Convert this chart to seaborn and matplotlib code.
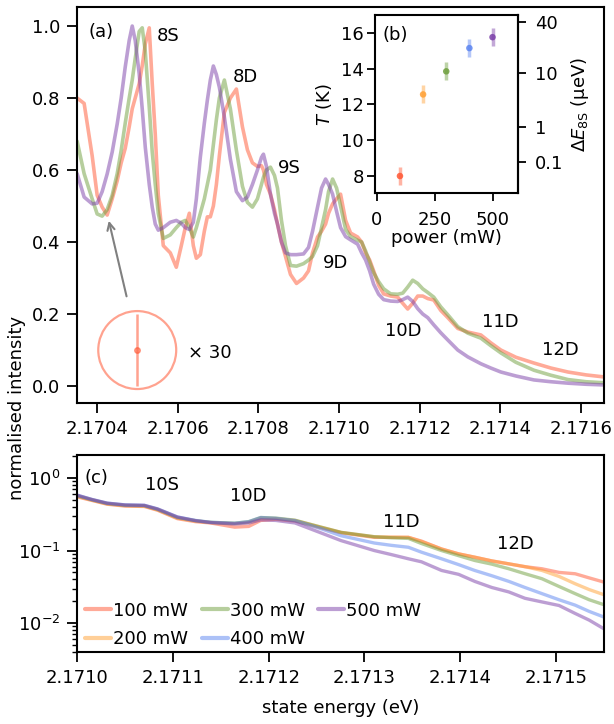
import numpy as np
import pandas as pd
import matplotlib
matplotlib.use("Agg")
import matplotlib.pyplot as plt
import seaborn as sns
from matplotlib.lines import Line2D
from matplotlib.ticker import FormatStrFormatter, NullLocator, LogLocator

# ---------------- data ----------------
powers = ["100 mW", "200 mW", "300 mW", "400 mW", "500 mW"]
colors = ["#ff5733", "#ffa033", "#6e9e3c", "#5b84f0", "#7a3fa8"]

# panel (a): shared energy grid (eV)
a_energy = [2.1703503, 2.1703677, 2.1703876, 2.1704000, 2.1704124, 2.1704248, 2.1704373, 2.1704497,
            2.1704596, 2.1704696, 2.1704795, 2.1704870, 2.1704944, 2.1705043, 2.1705118, 2.1705193,
            2.1705292, 2.1705366, 2.1705441, 2.1705516, 2.1705640, 2.1705814, 2.1705963, 2.1706087,
            2.1706186, 2.1706286, 2.1706385, 2.1706460, 2.1706559, 2.1706658, 2.1706733, 2.1706807,
            2.1706882, 2.1706957, 2.1707031, 2.1707155, 2.1707304, 2.1707453, 2.1707603, 2.1707727,
            2.1707851, 2.1707975, 2.1708075, 2.1708124, 2.1708199, 2.1708298, 2.1708398, 2.1708472,
            2.1708571, 2.1708671, 2.1708795, 2.1708944, 2.1709118, 2.1709242, 2.1709342, 2.1709466,
            2.1709565, 2.1709665, 2.1709739, 2.1709839, 2.1709938, 2.1710037, 2.1710162, 2.1710286,
            2.1710460, 2.1710559, 2.1710658, 2.1710758, 2.1710857, 2.1710981, 2.1711106, 2.1711280,
            2.1711454, 2.1711578, 2.1711702, 2.1711826, 2.1711950, 2.1712075, 2.1712199, 2.1712348,
            2.1712522, 2.1712696, 2.1712944, 2.1713193, 2.1713516, 2.1713764, 2.1714013, 2.1714385,
            2.1714832, 2.1715255, 2.1715677, 2.1716124, 2.1716596]

a_int_100 = [0.80, 0.785, 0.64, 0.53, 0.497, 0.475, 0.52, 0.57, 0.62, 0.66, 0.72, 0.77, 0.80, 0.84,
             0.89, 0.95, 0.995, 0.84, 0.70, 0.53, 0.39, 0.37, 0.33, 0.39, 0.44, 0.48, 0.39, 0.355,
             0.365, 0.43, 0.47, 0.47, 0.50, 0.56, 0.64, 0.76, 0.80, 0.825, 0.72, 0.656, 0.62, 0.61,
             0.612, 0.60, 0.56, 0.533, 0.49, 0.45, 0.40, 0.36, 0.31, 0.285, 0.30, 0.32, 0.37, 0.414,
             0.43, 0.45, 0.48, 0.506, 0.52, 0.533, 0.46, 0.425, 0.414, 0.40, 0.37, 0.35, 0.32, 0.28,
             0.256, 0.25, 0.247, 0.23, 0.214, 0.23, 0.25, 0.25, 0.243, 0.239, 0.21, 0.19, 0.16, 0.15,
             0.142, 0.12, 0.10, 0.08, 0.064, 0.05, 0.039, 0.031, 0.025]

a_int_300 = [0.68, 0.59, 0.52, 0.478, 0.472, 0.49, 0.53, 0.59, 0.655, 0.73, 0.80, 0.85, 0.91, 0.985,
             0.995, 0.93, 0.775, 0.65, 0.56, 0.48, 0.41, 0.42, 0.44, 0.455, 0.46, 0.44, 0.414, 0.44,
             0.48, 0.52, 0.56, 0.60, 0.67, 0.74, 0.80, 0.85, 0.77, 0.655, 0.555, 0.51, 0.497, 0.52,
             0.56, 0.58, 0.60, 0.608, 0.585, 0.55, 0.46, 0.39, 0.335, 0.333, 0.34, 0.35, 0.36, 0.39,
             0.44, 0.49, 0.54, 0.575, 0.55, 0.50, 0.435, 0.415, 0.405, 0.40, 0.375, 0.345, 0.315, 0.29,
             0.27, 0.256, 0.255, 0.258, 0.275, 0.294, 0.285, 0.27, 0.26, 0.247, 0.22, 0.198, 0.165,
             0.147, 0.133, 0.112, 0.092, 0.066, 0.044, 0.030, 0.018, 0.012, 0.009]

a_int_500 = [0.59, 0.525, 0.506, 0.508, 0.54, 0.589, 0.65, 0.728, 0.80, 0.886, 0.96, 1.00, 0.96, 0.867,
             0.77, 0.664, 0.56, 0.497, 0.45, 0.433, 0.44, 0.455, 0.46, 0.452, 0.44, 0.435, 0.455, 0.52,
             0.636, 0.73, 0.794, 0.85, 0.889, 0.865, 0.83, 0.747, 0.63, 0.54, 0.515, 0.525, 0.56, 0.60,
             0.635, 0.644, 0.61, 0.533, 0.48, 0.45, 0.40, 0.37, 0.365, 0.365, 0.367, 0.385, 0.43, 0.497,
             0.55, 0.575, 0.56, 0.533, 0.485, 0.44, 0.415, 0.406, 0.394, 0.37, 0.35, 0.32, 0.283, 0.255,
             0.24, 0.236, 0.235, 0.24, 0.247, 0.235, 0.215, 0.20, 0.19, 0.17, 0.148, 0.128, 0.10, 0.081,
             0.062, 0.05, 0.039, 0.028, 0.017, 0.012, 0.008, 0.005, 0.003]

# panel (c): shared energy grid (eV)
c_energy = [2.1710000, 2.1710157, 2.1710314, 2.1710503, 2.1710702, 2.1710839, 2.1711048, 2.1711237,
            2.1711394, 2.1711646, 2.1711792, 2.1711918, 2.1712075, 2.1712275, 2.1712547, 2.1712757,
            2.1713103, 2.1713281, 2.1713459, 2.1713595, 2.1713805, 2.1713983, 2.1714151, 2.1714329,
            2.1714507, 2.1714675, 2.1714853, 2.1715031, 2.1715199, 2.1715346, 2.1715524]
c_int_100 = [0.55, 0.49, 0.435, 0.41, 0.405, 0.36, 0.275, 0.25, 0.24, 0.21, 0.215, 0.26, 0.27, 0.255,
             0.205, 0.176, 0.152, 0.152, 0.152, 0.135, 0.105, 0.090, 0.081, 0.072, 0.0656, 0.060,
             0.0561, 0.050, 0.0479, 0.042, 0.036]
c_int_200 = [0.56, 0.495, 0.44, 0.415, 0.41, 0.365, 0.28, 0.255, 0.243, 0.235, 0.245, 0.28, 0.275, 0.26,
             0.21, 0.178, 0.155, 0.153, 0.152, 0.133, 0.105, 0.090, 0.081, 0.072, 0.0656, 0.060,
             0.0532, 0.044, 0.0349, 0.029, 0.024]
c_int_300 = [0.57, 0.50, 0.445, 0.42, 0.415, 0.37, 0.285, 0.258, 0.245, 0.238, 0.25, 0.285, 0.28, 0.262,
             0.21, 0.178, 0.155, 0.150, 0.147, 0.125, 0.100, 0.085, 0.073, 0.065, 0.0561, 0.048,
             0.0409, 0.032, 0.0255, 0.021, 0.0175]
c_int_400 = [0.58, 0.505, 0.45, 0.425, 0.42, 0.375, 0.29, 0.26, 0.245, 0.238, 0.25, 0.285, 0.278, 0.258,
             0.20, 0.16, 0.127, 0.118, 0.111, 0.095, 0.077, 0.064, 0.0532, 0.045, 0.0376, 0.031,
             0.0255, 0.021, 0.0177, 0.0145, 0.0118]
c_int_500 = [0.58, 0.505, 0.45, 0.425, 0.42, 0.375, 0.29, 0.258, 0.243, 0.232, 0.24, 0.265, 0.26, 0.24,
             0.175, 0.137, 0.100, 0.088, 0.077, 0.070, 0.0532, 0.047, 0.0376, 0.031, 0.0269, 0.022,
             0.0196, 0.0175, 0.0136, 0.011, 0.0080]

# panel (b)
b_power = [100, 200, 300, 400, 500]
b_temp = [8.0, 12.56, 13.85, 15.15, 15.76]
b_err = [0.5, 0.5, 0.5, 0.5, 0.5]

a_xticks = [2.1704, 2.1706, 2.1708, 2.1710, 2.1712, 2.1714, 2.1716]
c_xticks = [2.1710, 2.1711, 2.1712, 2.1713, 2.1714, 2.1715]
de_ticks = [0.1, 1, 10, 40]
de_labels = ["0.1", "1", "10", "40"]

FS = 13

# ---------------- style ----------------
sns.set_theme(style="ticks")
plt.rcParams["font.family"] = ["DejaVu Sans"]
plt.rcParams.update({
    "mathtext.fontset": "dejavusans",
    "font.size": FS, "axes.labelsize": FS, "xtick.labelsize": FS, "ytick.labelsize": FS,
    "legend.fontsize": FS,
    "axes.linewidth": 1.5, "axes.edgecolor": "black",
    "xtick.color": "black", "ytick.color": "black", "text.color": "black",
    "axes.labelcolor": "black",
    "xtick.major.width": 1.3, "ytick.major.width": 1.3,
    "xtick.major.size": 7, "ytick.major.size": 7,
    "xtick.minor.size": 3.5, "ytick.minor.size": 3.5,
    "xtick.minor.width": 1.0, "ytick.minor.width": 1.0,
    "xtick.major.pad": 5, "ytick.major.pad": 5,
})
palette = dict(zip(powers, colors))

fig = plt.figure(figsize=(6.14, 7.24), dpi=100)
ax_a = fig.add_axes([0.1254, 0.4434, 0.8583, 0.5470])
ax_c = fig.add_axes([0.1254, 0.0994, 0.8583, 0.2721])
ax_b = fig.add_axes([0.6107, 0.7334, 0.2329, 0.2459])

# ---------------- panel (a) ----------------
df_a = pd.concat([
    pd.DataFrame({"E": a_energy, "I": a_int_100, "power": "100 mW"}),
    pd.DataFrame({"E": a_energy, "I": a_int_300, "power": "300 mW"}),
    pd.DataFrame({"E": a_energy, "I": a_int_500, "power": "500 mW"}),
])
sns.lineplot(data=df_a, x="E", y="I", hue="power", palette=palette, estimator=None,
             lw=2.6, alpha=0.5, legend=False, ax=ax_a)
ax_a.set_xlim(2.17035, 2.171657)
ax_a.set_ylim(-0.047, 1.053)
ax_a.set_xticks(a_xticks)
ax_a.xaxis.set_major_formatter(FormatStrFormatter("%.4f"))
ax_a.set_yticks([0.0, 0.2, 0.4, 0.6, 0.8, 1.0])
ax_a.yaxis.set_major_formatter(FormatStrFormatter("%.1f"))
ax_a.set_xlabel("")
ax_a.set_ylabel("")

for txt, fx, fy in [("(a)", 0.021, 0.937), ("8S", 0.152, 0.927), ("8D", 0.296, 0.823),
                    ("9S", 0.381, 0.593), ("9D", 0.467, 0.354), ("10D", 0.584, 0.182),
                    ("11D", 0.769, 0.205), ("12D", 0.882, 0.134), ("× 30", 0.211, 0.126)]:
    ax_a.text(fx, fy, txt, transform=ax_a.transAxes, ha="left", va="center", fontsize=FS)

# magnified error-bar marker
ax_a.scatter([2.1704994], [0.1], s=3150, facecolors="none", edgecolors=colors[0],
             linewidths=1.6, alpha=0.55, zorder=3)
ax_a.errorbar([2.1704994], [0.1], yerr=[0.1], fmt="o", color=colors[0], ms=4,
              elinewidth=1.8, ecolor=colors[0], alpha=0.55, capsize=0, zorder=3)
ax_a.annotate("", xy=(2.1704273, 0.4667), xytext=(2.1704745, 0.2417),
              arrowprops=dict(arrowstyle="->", color="0.5", lw=1.5))

# ---------------- panel (b) ----------------
ax_b.set_zorder(5)
ax_b.set_facecolor("white")
for p, t, e, c in zip(b_power, b_temp, b_err, colors):
    ax_b.errorbar([p], [t], yerr=[e], fmt="none", ecolor=c, elinewidth=2.5, alpha=0.45, capsize=0)
sns.scatterplot(x=b_power, y=b_temp, hue=powers, palette=palette, s=22, alpha=0.85,
                edgecolor="none", legend=False, ax=ax_b, zorder=3)
ax_b.set_xlim(-8, 610)
ax_b.set_ylim(7.05, 17.0)
ax_b.set_xticks([0, 250, 500])
ax_b.set_yticks([8, 10, 12, 14, 16])
ax_b.tick_params(axis="both", length=6, pad=2)
ax_b.tick_params(axis="x", pad=7)
ax_b.set_xlabel("power (mW)", labelpad=0)
ax_b.set_ylabel(r"$T$ (K)", labelpad=5)
ax_b.text(0.056, 0.888, "(b)", transform=ax_b.transAxes, ha="left", va="center", fontsize=FS)

B_act = 111.6
lnA = 10.407


def t_to_de(T):
    T = np.asarray(T, dtype=float)
    with np.errstate(divide="ignore", over="ignore", invalid="ignore"):
        return np.exp(lnA - B_act / T)


def de_to_t(d):
    d = np.asarray(d, dtype=float)
    with np.errstate(divide="ignore", invalid="ignore"):
        return B_act / (lnA - np.log(np.clip(d, 1e-12, None)))


sec = ax_b.secondary_yaxis("right", functions=(t_to_de, de_to_t))
sec.set_yticks(de_ticks)
sec.set_yticklabels(de_labels)
sec.yaxis.set_minor_locator(NullLocator())
sec.tick_params(axis="y", length=6, pad=6)
sec.set_ylabel(r"$\Delta E_{\mathrm{8S}}$ (μeV)", labelpad=4)

# ---------------- panel (c) ----------------
df_c = pd.concat([
    pd.DataFrame({"E": c_energy, "I": vals, "power": p})
    for p, vals in zip(powers, [c_int_100, c_int_200, c_int_300, c_int_400, c_int_500])
])
sns.lineplot(data=df_c, x="E", y="I", hue="power", palette=palette, estimator=None,
             lw=2.4, alpha=0.5, legend=False, ax=ax_c)
ax_c.set_yscale("log")
ax_c.set_xlim(2.1710, 2.17155)
ax_c.set_ylim(0.004, 2.07)
ax_c.set_xticks(c_xticks)
ax_c.xaxis.set_major_formatter(FormatStrFormatter("%.4f"))
ax_c.yaxis.set_major_locator(LogLocator(base=10, numticks=10))
ax_c.yaxis.set_minor_locator(LogLocator(base=10, subs=np.arange(2, 10), numticks=10))
ax_c.set_xlabel("state energy (eV)", labelpad=9)
ax_c.set_ylabel("")

for txt, fx, fy in [("(c)", 0.015, 0.883), ("10S", 0.129, 0.848), ("10D", 0.290, 0.792),
                    ("11D", 0.581, 0.660), ("12D", 0.797, 0.548)]:
    ax_c.text(fx, fy, txt, transform=ax_c.transAxes, ha="left", va="center", fontsize=FS)

handles = [Line2D([0], [0], color=c, lw=3, alpha=0.5) for c in colors]
ax_c.legend(handles, powers, ncol=3, loc="lower left", bbox_to_anchor=(-0.005, -0.035),
            frameon=False, handlelength=1.45, handletextpad=0.1, columnspacing=0.75,
            labelspacing=0.58, borderaxespad=0.2)

fig.text(17.5 / 614, 1 - 408 / 724, "normalised intensity", rotation=90, ha="center",
         va="center", fontsize=FS)

fig.savefig("out.png", dpi=100)
